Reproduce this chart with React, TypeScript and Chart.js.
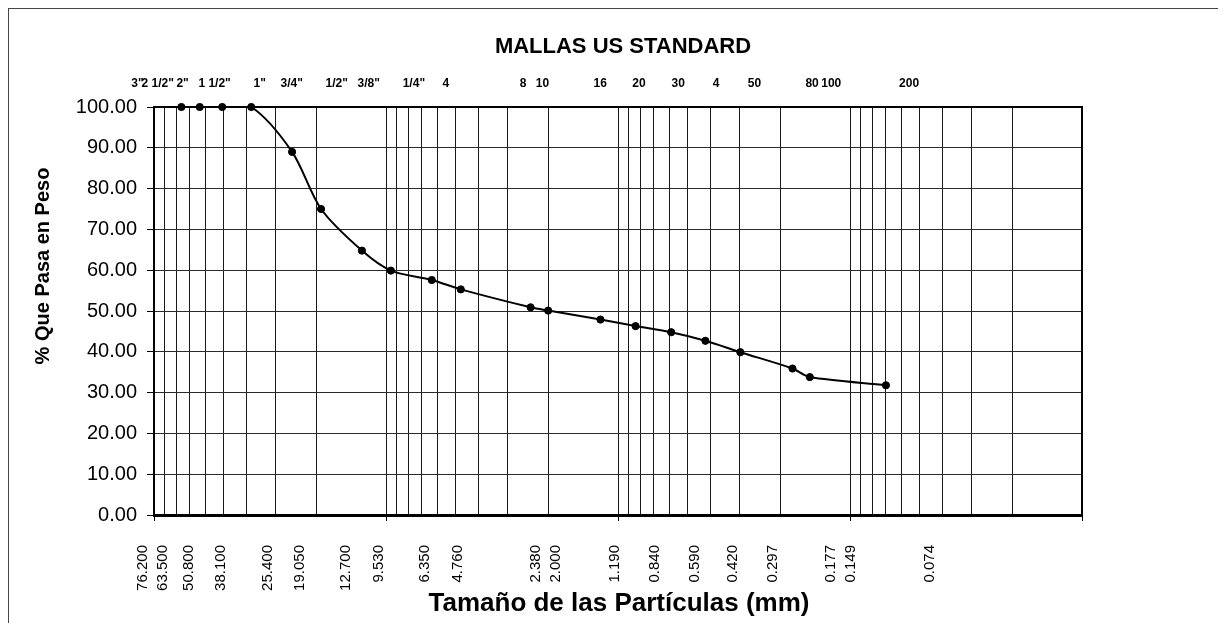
import React, { useEffect, useRef } from "react";
import { Chart, registerables } from "chart.js";

Chart.register(...registerables);

// ---- data ----
const sieveSizesMm = [76.2, 63.5, 50.8, 38.1, 25.4, 19.05, 12.7, 9.53, 6.35, 4.76, 2.38, 2.0, 1.19, 0.84, 0.59, 0.42, 0.297, 0.177, 0.149, 0.074];
const plottedSizesMm = [76.2, 63.5, 50.8, 38.1, 25.4, 19.05, 12.7, 9.53, 6.35, 4.76, 2.38, 2.0, 1.19, 0.84, 0.59, 0.42, 0.297, 0.177, 0.149, 0.07];
const percentPassing = [100, 100, 100, 100, 89.0, 75.0, 64.8, 59.9, 57.6, 55.3, 50.9, 50.1, 47.9, 46.3, 44.8, 42.7, 39.9, 35.9, 33.8, 31.8];
const sieveNames = ['3"', '2 1/2"', '2"', '1 1/2"', '1"', '3/4"', '1/2"', '3/8"', '1/4"', '4', '8', '10', '16', '20', '30', '4', '50', '80', '100', '200'];
const sizeLabels = ["76.200", "63.500", "50.800", "38.100", "25.400", "19.050", "12.700", "9.530", "6.350", "4.760", "2.380", "2.000", "1.190", "0.840", "0.590", "0.420", "0.297", "0.177", "0.149", "0.074"];
const yTicks = [0, 10, 20, 30, 40, 50, 60, 70, 80, 90, 100];

const TITLE = "MALLAS US STANDARD";
const X_TITLE = "Tamaño de las Partículas (mm)";
const Y_TITLE = "% Que Pasa en Peso";

const FONT = "'Liberation Sans', Arial, Helvetica, sans-serif";

// log minor grid values 0.01 .. 100
const gridValues: number[] = [];
[0.01, 0.1, 1, 10].forEach((d) => {
  for (let k = 1; k <= 9; k++) gridValues.push(+(k * d).toPrecision(6));
});
gridValues.push(100);

const isDecade = (v: number) => {
  if (!v) return false;
  const l = Math.log10(v);
  return Math.abs(l - Math.round(l)) < 1e-6;
};

const textPlugin = {
  id: "customTexts",
  afterDraw(chart: any) {
    const { ctx, chartArea: a, scales } = chart;
    const xs = scales.x;
    ctx.save();
    // top & right frame
    ctx.strokeStyle = "#000";
    ctx.lineWidth = 2;
    ctx.beginPath();
    ctx.moveTo(a.left, a.top);
    ctx.lineTo(a.right, a.top);
    ctx.lineTo(a.right, a.bottom);
    ctx.stroke();

    ctx.fillStyle = "#000";
    // title
    ctx.font = `bold 22px ${FONT}`;
    ctx.textAlign = "center";
    ctx.textBaseline = "middle";
    ctx.fillText(TITLE, a.left + a.width / 2 + 5, 38);

    // label spread relative to the scale positions (as in the source sheet)
    const pos = (v: number, c: number, s: number) => {
      const u = (xs.getPixelForValue(v) - a.left) / a.width;
      return a.left + a.width * (c + s * (u - 0.3749));
    };

    // top sieve names
    ctx.font = `bold 12px ${FONT}`;
    sieveSizesMm.forEach((v, i) => {
      ctx.fillText(sieveNames[i], pos(v, 0.3635, 1.104), 75);
    });

    // bottom rotated size labels
    ctx.font = `15px ${FONT}`;
    ctx.textAlign = "right";
    ctx.textBaseline = "middle";
    sieveSizesMm.forEach((v, i) => {
      ctx.save();
      ctx.translate(pos(v, 0.377, 1.127), a.bottom + 30);
      ctx.rotate(-Math.PI / 2);
      ctx.fillText(sizeLabels[i], 0, 0);
      ctx.restore();
    });

    // x title
    ctx.font = `bold 26px ${FONT}`;
    ctx.textAlign = "center";
    ctx.textBaseline = "alphabetic";
    ctx.fillText(X_TITLE, a.left + a.width / 2 + 1, 602);

    // y title
    ctx.save();
    ctx.translate(40, 257);
    ctx.rotate(-Math.PI / 2);
    ctx.font = `bold 20px ${FONT}`;
    ctx.textAlign = "center";
    ctx.textBaseline = "alphabetic";
    ctx.fillText(Y_TITLE, 0, 0);
    ctx.restore();

    ctx.restore();
  },
};

export default function App() {
  const ref = useRef<HTMLCanvasElement | null>(null);

  useEffect(() => {
    document.documentElement.style.overflow = "hidden";
    if (!ref.current) return;
    const chart = new Chart(ref.current, {
      type: "line",
      data: {
        datasets: [
          {
            data: plottedSizesMm.map((x, i) => ({ x, y: percentPassing[i] })),
            borderColor: "#000",
            backgroundColor: "#000",
            borderWidth: 2,
            pointRadius: 3.6,
            pointBorderWidth: 1,
            pointBackgroundColor: "#000",
            pointBorderColor: "#000",
            tension: 0.3,
            clip: false,
          } as any,
        ],
      },
      options: {
        animation: false,
        responsive: false,
        layout: { padding: { top: 98, right: 142, bottom: 0, left: 0 } },
        plugins: { legend: { display: false }, tooltip: { enabled: false }, title: { display: false } },
        scales: {
          x: {
            type: "logarithmic",
            position: "bottom",
            reverse: true,
            min: 0.01,
            max: 100,
            afterBuildTicks: (scale: any) => {
              scale.ticks = gridValues.map((v) => ({ value: v }));
            },
            afterFit: (scale: any) => {
              scale.height = 108;
            },
            ticks: { display: false },
            grid: {
              color: "#1a1a1a",
              lineWidth: 1,
              drawTicks: true,
              tickLength: 6,
              tickColor: (c: any) => (c.tick && isDecade(c.tick.value) ? "#000" : "rgba(0,0,0,0)"),
            },
            border: { display: true, color: "#000", width: 3 },
          } as any,
          y: {
            type: "linear",
            min: 0,
            max: 100,
            afterBuildTicks: (scale: any) => {
              scale.ticks = yTicks.map((v) => ({ value: v }));
            },
            afterFit: (scale: any) => {
              scale.width = 145;
            },
            ticks: {
              color: "#000",
              font: { family: FONT, size: 20 },
              padding: 10,
              callback: (v: any) => Number(v).toFixed(2),
            },
            grid: {
              color: "#2a2a2a",
              lineWidth: 1,
              drawTicks: true,
              tickLength: 7,
              tickColor: "#000",
            },
            border: { display: true, color: "#000", width: 2 },
          } as any,
        },
      },
      plugins: [textPlugin],
    });
    return () => chart.destroy();
  }, []);

  return (
    <div
      style={{
        width: 1217,
        height: 615,
        boxSizing: "border-box",
        borderTop: "1px solid #444",
        borderLeft: "1px solid #444",
        borderRight: "1px solid #444",
        background: "#fff",
      }}
    >
      <canvas ref={ref} width={1215} height={614} style={{ display: "block" }} />
    </div>
  );
}
